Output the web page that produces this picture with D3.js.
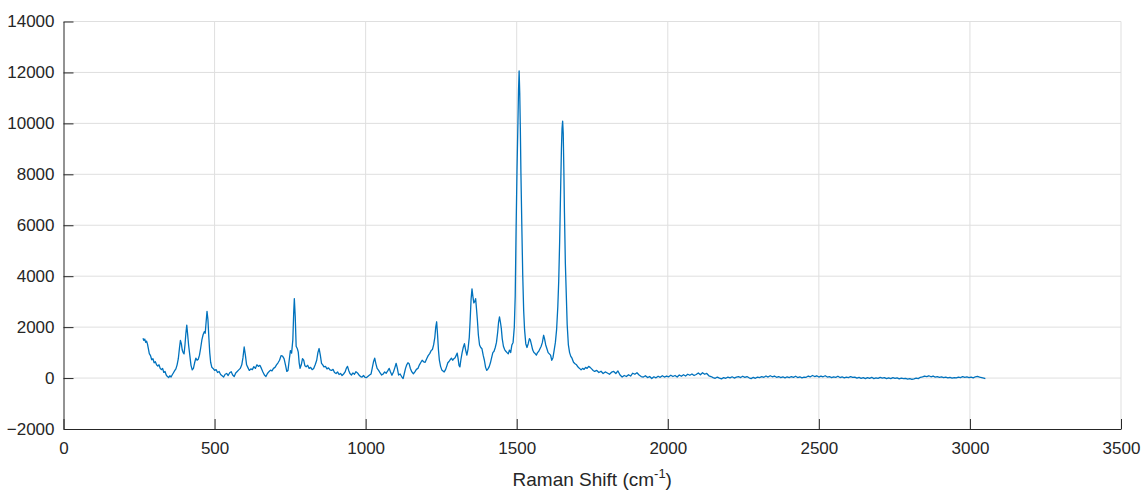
<!DOCTYPE html>
<html>
<head>
<meta charset="utf-8">
<script src="https://cdn.jsdelivr.net/npm/d3@7"></script>
<style>
  body { margin: 0; background: #fff; }
  #spectrum-vis text { font-family: "Liberation Sans", Arial, sans-serif; fill: #262626; }
  .grid line { stroke: #dfdfdf; stroke-width: 1; }
  .axis path, .axis line { stroke: #262626; }
</style>
</head>
<body>
<div id="spectrum-vis"></div>
<script>
// tick values
var xTicks = [0, 500, 1000, 1500, 2000, 2500, 3000, 3500];
var yTicks = [-2000, 0, 2000, 4000, 6000, 8000, 10000, 12000, 14000];

// [Raman shift cm-1, intensity], split by region
var lowRegion = [
  [263,1560],[266,1480],[269,1530],[272,1400],[275,1450],[278,1330],[281,1150],[284,960],[288,880],[292,720],
  [296,760],[300,600],[304,640],[308,520],[312,470],[316,520],[320,380],[324,330],[328,380],[332,220],
  [336,260],[340,120],[344,60],[348,20],[352,90],[356,40],[360,130],[364,210],[368,290],[372,360],
  [376,520],[380,760],[384,1200],[387,1480],[390,1350],[393,1100],[396,1000],[399,950],[402,1300],[405,1750],
  [408,2080],[411,1700],[414,1300],[418,900],[422,500],[426,320],[430,380],[434,600],[438,780],[442,700],
  [446,740],[450,900],[454,1180],[458,1500],[462,1700],[466,1820],[469,1760],[472,2200],[475,2620],[478,2300],
  [481,1600],[484,1000],[487,620],[491,420],[495,380],[500,300],[505,330],[510,220],[515,260],[520,140],
  [525,90],[530,40],[535,150],[540,180],[545,100],[550,210],[555,250],[560,120],[565,60],[570,200],
  [575,260],[580,320],[585,380],[590,520],[594,800],[598,1220],[602,900],[606,520],[610,420],[615,300],
  [620,360],[625,330],[630,450],[635,380],[640,520],[645,460],[650,500],[655,380],[660,240],[665,120],
  [670,60],[675,180],[680,250],[685,310],[690,280],[695,380],[700,420]
];

var midRegion = [
  [705,520],[710,600],[715,700],[720,880],[725,860],[730,760],[735,500],[739,260],[743,300],[747,700],
  [751,1080],[755,980],[759,1500],[762,2600],[764,3120],[767,2400],[770,1250],[774,1150],[777,1020],[780,600],
  [783,380],[787,520],[791,760],[795,700],[799,480],[803,440],[808,500],[813,380],[818,420],[823,330],
  [828,380],[833,520],[838,700],[842,1000],[846,1160],[850,900],[854,580],[858,520],[862,440],[867,460],
  [872,360],[877,400],[882,320],[887,300],[892,340],[897,220],[902,180],[907,240],[912,140],[917,180],
  [922,100],[927,160],[932,240],[936,380],[940,460],[944,300],[948,180],[953,120],[958,200],[963,150],
  [968,250],[973,200],[978,120],[983,60],[988,40],[993,100],[998,30],[1003,20],[1008,70],[1013,120],
  [1018,160],[1022,400],[1026,640],[1030,780],[1034,560],[1038,380],[1043,300],[1048,200],[1053,120],[1058,160],
  [1063,240],[1068,190],[1073,280],[1078,380],[1082,250],[1087,110],[1092,240],[1097,420],[1101,580],[1105,380],
  [1109,120],[1114,160],[1119,60],[1124,-20],[1128,180],[1132,380],[1136,520],[1140,600],[1144,560],[1148,380],
  [1153,240],[1158,170],[1163,240],[1168,340],[1173,380],[1178,520],[1183,620],[1187,700],[1192,640],[1197,620],
  [1202,760],[1207,880],[1212,960],[1217,1080],[1221,1120],[1225,1300],[1229,1600],[1232,2000],[1235,2210],[1238,1700],
  [1241,1100],[1244,700],[1248,460],[1252,320],[1256,280],[1260,240],[1264,320],[1268,450],[1272,600],[1276,650],
  [1280,720],[1284,780],[1288,700],[1292,760],[1296,800],[1300,900],[1303,980],[1306,760],[1309,500],[1312,440],
  [1315,700],[1319,980],[1323,1200],[1327,1350],[1331,1100],[1335,900],[1339,1150],[1343,1600],[1346,2300],[1349,3100],
  [1352,3500],[1355,3200],[1358,2950],[1361,3000],[1364,3120],[1367,2700],[1370,2250],[1373,1700],[1377,1300],[1381,1200],
  [1385,1150],[1389,900],[1393,700],[1397,420],[1401,300],[1405,360],[1409,450],[1413,600],[1417,800],[1421,1000],
  [1425,1050],[1429,1200],[1433,1400],[1437,1800],[1440,2200],[1443,2400],[1446,2200],[1449,1950],[1452,1550],[1456,1250],
  [1460,1120],[1464,1050],[1468,1000],[1472,950],[1476,1100],[1480,1000],[1484,1300],[1488,1400]
];

var peakRegion = [
  [1492,2000],[1495,3200],[1498,5900],[1501,8200],[1504,10000],[1506,11300],[1508,12060],[1510,11200],[1512,9800],[1514,8000],
  [1517,5900],[1520,4000],[1523,2650],[1526,1900],[1530,1350],[1534,1200],[1538,1350],[1542,1550],[1545,1500],[1549,1300],
  [1553,1100],[1557,1000],[1561,960],[1565,900],[1569,1000],[1573,1050],[1577,1150],[1581,1250],[1585,1400],[1589,1680],
  [1592,1550],[1596,1300],[1600,1150],[1604,1000],[1608,950],[1612,900],[1616,700],[1620,800],[1624,1100],[1628,1400],
  [1632,1900],[1636,2800],[1639,3800],[1642,5300],[1645,7200],[1648,9000],[1650,9800],[1652,10090],[1654,9600],[1656,8200],
  [1658,6500],[1661,4500],[1664,3300],[1667,2100],[1671,1300],[1675,1000],[1679,850],[1683,780],[1688,620],[1693,560],
  [1698,520],[1703,430],[1708,380],[1713,320],[1718,380],[1723,340],[1728,420],[1733,380],[1738,460],[1743,420],
  [1748,360],[1753,300],[1758,260]
];

var tailRegion = [
  [1765,300],[1772,220],[1779,270],[1786,180],[1793,240],[1800,200],[1807,150],[1814,230],[1821,260],[1828,180],
  [1835,280],[1842,120],[1849,40],[1856,100],[1863,60],[1870,130],[1877,80],[1884,190],[1891,150],[1898,210],
  [1905,120],[1912,60],[1919,40],[1926,90],[1933,20],[1940,60],[1947,-20],[1954,50],[1961,10],[1968,70],
  [1975,30],[1982,90],[1989,40],[1996,80],[2003,50],[2010,110],[2017,60],[2024,100],[2031,40],[2038,120],
  [2045,70],[2052,130],[2059,80],[2066,150],[2073,110],[2080,160],[2087,100],[2094,140],[2101,200],[2108,130],
  [2115,210],[2122,150],[2129,180],[2136,90],[2143,60],[2150,20],[2157,-10],[2164,40],[2171,0],[2178,-30],
  [2185,20],[2192,-10],[2199,40],[2206,10],[2213,50],[2220,0],[2227,40],[2234,60],[2241,20],[2248,70],
  [2255,30],[2262,60],[2269,10],[2276,-20],[2283,30],[2290,-10],[2297,40],[2304,20],[2311,60],[2318,30],
  [2325,80],[2332,40],[2339,90],[2346,50],[2353,80],[2360,30],[2367,60],[2374,20],[2381,50],[2388,10],
  [2395,50],[2402,20],[2409,60],[2416,30],[2423,70],[2430,20],[2437,50],[2444,10],[2451,40],[2458,30],
  [2465,80],[2472,50],[2479,100],[2486,60],[2493,90],[2500,40],[2507,80],[2514,50],[2521,90],[2528,40],
  [2535,60],[2542,20],[2549,50],[2556,30],[2563,70],[2570,20],[2577,50],[2584,10],[2591,40],[2598,20],
  [2605,60],[2612,30],[2619,40],[2626,0],[2633,30],[2640,-10],[2647,20],[2654,-20],[2661,20],[2668,-10],
  [2675,30],[2682,-20],[2689,10],[2696,-10],[2703,30],[2710,0],[2717,20],[2724,-20],[2731,10],[2738,-20],
  [2745,20],[2752,-10],[2759,10],[2766,-30],[2773,0],[2780,-20],[2787,-10],[2794,-40],[2801,-20],[2808,-50],
  [2815,-30],[2822,0],[2829,-20],[2836,30],[2843,50],[2850,80],[2857,60],[2864,90],[2871,50],[2878,80],
  [2885,40],[2892,60],[2899,30],[2906,50],[2913,20],[2920,40],[2927,10],[2934,30],[2941,0],[2948,20],
  [2955,10],[2962,40],[2969,20],[2976,60],[2983,30],[2990,50],[2997,20],[3004,40],[3011,10],[3018,50],
  [3025,70],[3032,40],[3039,20],[3046,0],[3051,-20]
];

SpectrumVis = function (_parentElement, _data) {
  this.parentElement = _parentElement;
  this.data = _data;
  this.initVis();
};

SpectrumVis.prototype.initVis = function () {
  var vis = this;

  vis.margin = { top: 21.5, right: 25, bottom: 62, left: 63.5 };
  vis.width = 1146 - vis.margin.left - vis.margin.right;
  vis.height = 491 - vis.margin.top - vis.margin.bottom;

  vis.svg = d3
    .select("#" + vis.parentElement)
    .append("svg")
    .attr("width", 1146)
    .attr("height", 491)
    .append("g")
    .attr("transform", "translate(" + vis.margin.left + "," + vis.margin.top + ")");

  vis.x = d3.scaleLinear().domain([0, 3500]).range([0, vis.width]);
  vis.y = d3.scaleLinear().domain([-2000, 14000]).range([vis.height, 0]);

  // grid lines
  vis.grid = vis.svg.append("g").attr("class", "grid");

  vis.grid
    .selectAll("line.gx")
    .data(xTicks.slice(1))
    .join("line")
    .attr("class", "gx")
    .attr("x1", (d) => vis.x(d))
    .attr("x2", (d) => vis.x(d))
    .attr("y1", 0)
    .attr("y2", vis.height);

  vis.grid
    .selectAll("line.gy")
    .data(yTicks.slice(1))
    .join("line")
    .attr("class", "gy")
    .attr("x1", 0)
    .attr("x2", vis.width)
    .attr("y1", (d) => vis.y(d))
    .attr("y2", (d) => vis.y(d));

  vis.wrangleData();
};

SpectrumVis.prototype.wrangleData = function () {
  var vis = this;
  vis.displayData = [].concat(vis.data[0], vis.data[1], vis.data[2], vis.data[3]);
  vis.updateVis();
};

SpectrumVis.prototype.updateVis = function () {
  var vis = this;

  // spectrum line
  vis.svg
    .append("path")
    .datum(vis.displayData)
    .attr("fill", "none")
    .attr("stroke", "#0072BD")
    .attr("stroke-width", 1.3)
    .attr("stroke-linejoin", "round")
    .attr(
      "d",
      d3
        .line()
        .x((d) => vis.x(d[0]))
        .y((d) => vis.y(d[1]))
    );

  // axes, ticks pointing inward like matlab
  vis.xAxis = d3.axisBottom(vis.x).tickValues(xTicks).tickFormat(d3.format("d"))
    .tickSizeInner(-10).tickSizeOuter(0);
  vis.yAxis = d3.axisLeft(vis.y).tickValues(yTicks).tickFormat(d3.format("d"))
    .tickSizeInner(-10).tickSizeOuter(0);

  vis.svg
    .append("g")
    .attr("class", "x-axis axis")
    .attr("transform", "translate(0," + vis.height + ")")
    .call(vis.xAxis)
    .call((g) => g.selectAll("text").attr("font-size", 17).attr("dy", "0.95em").attr("y", 9));

  vis.svg
    .append("g")
    .attr("class", "y-axis axis")
    .call(vis.yAxis)
    .call((g) => g.selectAll("text").attr("font-size", 17).attr("x", -9));

  vis.svg.selectAll(".axis text").style("fill", "#262626");

  // axis label
  var label = vis.svg
    .append("text")
    .attr("class", "x-axis label")
    .attr("text-anchor", "middle")
    .attr("x", vis.width / 2)
    .attr("y", vis.height + 57)
    .attr("font-size", 19);
  label.append("tspan").text("Raman Shift (cm");
  label.append("tspan").attr("font-size", 13).attr("dy", -8).text("-1");
  label.append("tspan").attr("dy", 8).text(")");
};

new SpectrumVis("spectrum-vis", [lowRegion, midRegion, peakRegion, tailRegion]);
</script>
</body>
</html>
